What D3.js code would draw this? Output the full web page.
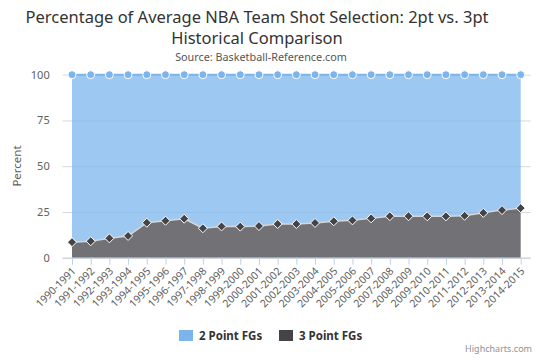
<!DOCTYPE html>
<html><head><meta charset="utf-8">
<script src="https://cdn.jsdelivr.net/npm/d3@7"></script>
<style>
body{margin:0;background:#fff;}
svg{font-family:"Noto Sans",sans-serif;}
</style></head>
<body><svg id="c" width="540" height="360"></svg>
<script>
const seasons = ["1990-1991","1991-1992","1992-1993","1993-1994","1994-1995","1995-1996","1996-1997","1997-1998","1998-1999","1999-2000","2000-2001","2001-2002","2002-2003","2003-2004","2004-2005","2005-2006","2006-2007","2007-2008","2008-2009","2009-2010","2010-2011","2011-2012","2012-2013","2013-2014","2014-2015"];
const twoPt = [91.5,91.0,89.4,88.1,80.9,79.8,78.7,83.9,82.9,83.0,82.7,81.6,81.6,81.0,80.1,79.6,78.5,77.3,77.3,77.4,77.4,77.1,75.5,74.0,72.9];
const threePt = [8.5,9.0,10.6,11.9,19.1,20.2,21.3,16.1,17.1,17.0,17.3,18.4,18.4,19.0,19.9,20.4,21.5,22.7,22.7,22.6,22.6,22.9,24.5,26.0,27.1];
const yTicks = [0,25,50,75,100];
const seriesNames = ["2 Point FGs","3 Point FGs"];
const colors = ["#7cb5ec","#434348"];

const svg = d3.select("#c");
const plotL = 62.7, plotR = 530.7, plotT = 74.7, plotB = 257.7;
const x = d3.scalePoint().domain(seasons).range([72, 520.7]);
const y = d3.scaleLinear().domain([0,100]).range([plotB, plotT]);

// titles
svg.append("text").attr("x",257).attr("y",23).attr("text-anchor","middle")
  .attr("font-size",16.5).attr("fill","#333").text("Percentage of Average NBA Team Shot Selection: 2pt vs. 3pt");
svg.append("text").attr("x",257).attr("y",44).attr("text-anchor","middle")
  .attr("font-size",16.5).attr("fill","#333").text("Historical Comparison");
svg.append("text").attr("x",261).attr("y",61).attr("text-anchor","middle")
  .attr("font-size",10.8).attr("fill","#555").text("Source: Basketball-Reference.com");

// grid
const yAxis = d3.axisLeft(y).tickValues(yTicks).tickSize(-(plotR-plotL)).tickPadding(13);
const gy = svg.append("g").attr("transform",`translate(${plotL},0)`).call(yAxis);
gy.select(".domain").remove();
gy.selectAll(".tick line").attr("stroke","#d8d8d8");
gy.selectAll(".tick text").attr("fill","#606060").attr("font-size",11).attr("font-family","Noto Sans, sans-serif");

svg.append("text").attr("transform",`translate(21,166) rotate(-90)`).attr("text-anchor","middle")
  .attr("font-size",11.5).attr("fill","#606060").text("Percent");

// stacked data
const rows = seasons.map((s,i)=>({s, three: threePt[i], two: twoPt[i]}));
const stack = d3.stack().keys(["three","two"])(rows);
const area = d3.area().x(d=>x(d.data.s)).y0(d=>y(d[0])).y1(d=>y(d[1]));
const line = d3.line().x(d=>x(d.data.s)).y(d=>y(d[1]));

svg.append("path").datum(stack[1]).attr("d",area).attr("fill",colors[0]).attr("fill-opacity",0.75);
svg.append("path").datum(stack[0]).attr("d",area).attr("fill",colors[1]).attr("fill-opacity",0.75);

// x axis
const xAxis = d3.axisBottom(x).tickSize(7).tickSizeOuter(0);
const gx = svg.append("g").attr("transform",`translate(0,${plotB})`).call(xAxis);
gx.select(".domain").attr("d",`M${plotL},0.5H${plotR}`).attr("stroke","#c0d0e0");
gx.selectAll(".tick line").attr("stroke","#c0d0e0");
gx.selectAll(".tick text").attr("fill","#606060").attr("font-size",10.5)
  .attr("font-family","Noto Sans, sans-serif")
  .attr("text-anchor","end").attr("dy",0).attr("y",0)
  .attr("transform","translate(4,14) rotate(-45)");

// lines
svg.append("path").datum(stack[1]).attr("d",line).attr("fill","none").attr("stroke",colors[0]).attr("stroke-width",2);
svg.append("path").datum(stack[0]).attr("d",line).attr("fill","none").attr("stroke","#d6d6d6").attr("stroke-width",1.5);

// markers
svg.append("g").selectAll("circle").data(stack[1]).join("circle")
  .attr("cx",d=>x(d.data.s)).attr("cy",d=>y(d[1])).attr("r",4)
  .attr("fill",colors[0]).attr("stroke","#fff").attr("stroke-width",1);
svg.append("g").selectAll("path").data(stack[0]).join("path")
  .attr("d",d=>{const cx=x(d.data.s), cy=y(d[1]); return `M${cx},${cy-4.5}L${cx+4.5},${cy}L${cx},${cy+4.5}L${cx-4.5},${cy}Z`;})
  .attr("fill",colors[1]).attr("stroke","#fff").attr("stroke-width",1);

// legend
const leg = svg.append("g");
const legX = [179, 279];
seriesNames.forEach((n,i)=>{
  leg.append("rect").attr("x",legX[i]).attr("y",330).attr("width",14).attr("height",11).attr("fill",colors[i]);
  leg.append("text").attr("x",legX[i]+20).attr("y",340).attr("font-size",11.5).attr("font-weight","bold")
    .attr("fill","#333").text(n);
});

svg.append("text").attr("x",532).attr("y",352).attr("text-anchor","end").attr("font-size",9)
  .attr("fill","#909090").text("Highcharts.com");
</script></body></html>
